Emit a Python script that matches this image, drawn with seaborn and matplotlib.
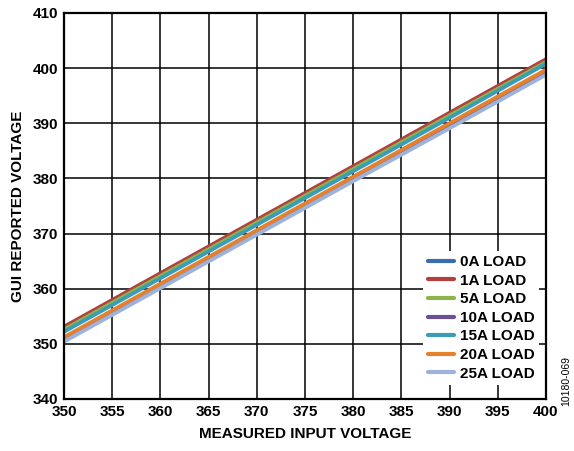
import numpy as np
import pandas as pd
import seaborn as sns
import matplotlib.pyplot as plt

# measured input voltage vs GUI reported voltage per load
vin = [350, 360, 370, 380, 390, 400]
loads = ["0A LOAD", "1A LOAD", "5A LOAD", "10A LOAD", "15A LOAD", "20A LOAD", "25A LOAD"]
v_0a = [352.9, 362.6, 372.3, 382.0, 391.7, 401.4]
v_1a = [353.1, 362.8, 372.5, 382.2, 391.9, 401.6]
v_5a = [352.6, 362.3, 372.0, 381.7, 391.4, 401.1]
v_10a = [350.6, 360.3, 370.0, 379.7, 389.3, 399.0]
v_15a = [352.2, 361.9, 371.6, 381.3, 391.0, 400.8]
v_20a = [351.2, 360.9, 370.6, 380.3, 390.0, 399.7]
v_25a = [350.4, 360.1, 369.8, 379.5, 389.1, 398.8]
colors = ["#3a6db0", "#b2403c", "#8db34c", "#6c4f94", "#3b9db5", "#e5802f", "#9db3d9"]

series = [v_0a, v_1a, v_5a, v_10a, v_15a, v_20a, v_25a]
df = pd.DataFrame({
    "vin": vin * len(loads),
    "vout": [v for s in series for v in s],
    "load": [l for l in loads for _ in vin],
})

sns.set_style("white")
plt.rcParams['font.family'] = ['Liberation Sans', 'DejaVu Sans']
plt.rcParams.update({"text.color": "black", "axes.labelcolor": "black",
                     "xtick.color": "black", "ytick.color": "black"})

fig = plt.figure(figsize=(5.74, 4.51), dpi=100)
ax = fig.add_axes([0.1115, 0.1153, 0.8397, 0.856])

sns.lineplot(data=df, x="vin", y="vout", hue="load", hue_order=loads,
             palette=colors, linewidth=2.8, ax=ax, legend=False)

ax.set_xlim(350, 400)
ax.set_ylim(340, 410)
ax.set_xticks(np.arange(350, 401, 5))
ax.set_yticks(np.arange(340, 411, 10))
ax.grid(True, color="black", linewidth=1.1)
ax.set_axisbelow(True)
for sp in ax.spines.values():
    sp.set_color("black")
    sp.set_linewidth(1.6)
ax.tick_params(labelsize=11, length=0, pad=4)
for t in ax.get_xticklabels() + ax.get_yticklabels():
    t.set_fontweight("bold")

ax.set_xlabel("MEASURED INPUT VOLTAGE", fontsize=11, fontweight="bold", labelpad=6)
ax.set_ylabel("GUI REPORTED VOLTAGE", fontsize=11, fontweight="bold", labelpad=6)

handles = [plt.Line2D([0], [0], color=c, linewidth=3) for c in colors]
leg = ax.legend(handles, loads, loc="lower right", frameon=True, fancybox=False,
                prop={"weight": "bold", "size": 11}, handlelength=1.7,
                handletextpad=0.4, labelspacing=0.3, borderaxespad=0.9,
                borderpad=0.3, bbox_to_anchor=(1.014, 0.0))
leg.get_frame().set_facecolor("white")
leg.get_frame().set_edgecolor("none")
leg.get_frame().set_alpha(1)

fig.text(0.987, 0.155, "10180-069", rotation=90, fontsize=7.5, ha="center", va="center")

fig.savefig("out.png", dpi=100)
